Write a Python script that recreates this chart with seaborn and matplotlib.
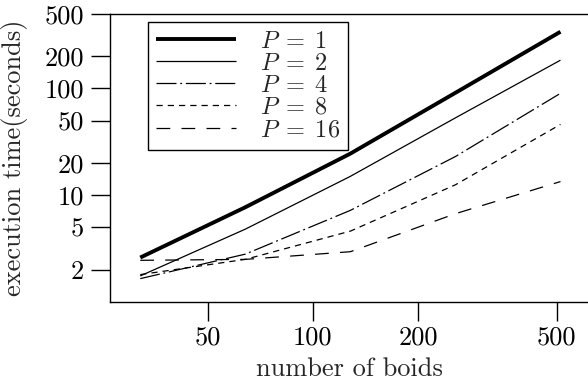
import matplotlib
matplotlib.use("Agg")
import matplotlib.pyplot as plt
import seaborn as sns
import pandas as pd
import numpy as np

boids = [32, 64, 128, 256, 512]
p1 = [2.6, 7.7, 24.5, 91, 340]
p2 = [1.75, 4.8, 15.0, 53, 184]
p4 = [1.65, 2.8, 7.2, 23, 90]
p8 = [1.8, 2.5, 4.6, 12.5, 46]
p16 = [2.45, 2.5, 2.95, 6.7, 13.4]
procs = [1, 2, 4, 8, 16]
series = [p1, p2, p4, p8, p16]

xticks = [50, 100, 200, 500]
yticks = [2, 5, 10, 20, 50, 100, 200, 500]

FS = 19

sns.set_style("ticks")
plt.rcParams.update({
    "font.family": "serif",
    "font.serif": ["cmr10", "DejaVu Serif"],
    "mathtext.fontset": "cm",
    "axes.formatter.use_mathtext": True,
    "font.size": FS,
    "axes.edgecolor": "black",
    "axes.linewidth": 1.0,
})

rows = []
for p, vals in zip(procs, series):
    for b, v in zip(boids, vals):
        rows.append({"boids": b, "time": v, "P": p})
df = pd.DataFrame(rows)

fig = plt.figure(figsize=(5.88, 3.85), dpi=100)
ax = fig.add_axes([0.187, 0.216, 0.813, 0.748])

styles = {
    1: dict(lw=2.8, dashes=(None, None)),
    2: dict(lw=0.9, dashes=(None, None)),
    4: dict(lw=0.9, dashes=(16, 3, 1.5, 3)),
    8: dict(lw=0.9, dashes=(5, 4)),
    16: dict(lw=0.9, dashes=(11, 9)),
}
for p in procs:
    sub = df[df["P"] == p]
    st = styles[p]
    sns.lineplot(data=sub, x="boids", y="time", ax=ax, color="black",
                 linewidth=st["lw"], label=rf"$P\;=\;{p}$")
    line = ax.get_lines()[-1]
    if st["dashes"][0] is not None:
        line.set_dashes(st["dashes"])
    line.set_solid_capstyle("butt")
    line.set_dash_capstyle("butt")

ax.set_xscale("log")
ax.set_yscale("log")
ax.set_xlim(26.2, 614)
ax.set_ylim(1.0, 500)
ax.set_xticks(xticks, [str(t) for t in xticks])
ax.set_yticks(yticks, [str(t) for t in yticks])
ax.minorticks_off()
ax.tick_params(direction="out", length=13.5, width=1, colors="black", labelsize=FS)
ax.tick_params(axis="y", pad=5)
ax.tick_params(axis="x", pad=4)
ax.spines["right"].set_visible(False)
ax.set_xlabel("number of boids", fontsize=FS, labelpad=5)
ax.set_ylabel("execution time(seconds)", fontsize=FS)
ax.yaxis.set_label_coords(-0.1715, 0.5)

leg = ax.legend(loc="upper left", bbox_to_anchor=(0.079, 0.972), borderaxespad=0,
                frameon=True, fancybox=False, edgecolor="black", framealpha=1,
                handlelength=3.3, handletextpad=0.95, labelspacing=0.0,
                borderpad=0.35, fontsize=17.5)
leg.get_frame().set_linewidth(1.0)

fig.savefig("out.png", dpi=100)
